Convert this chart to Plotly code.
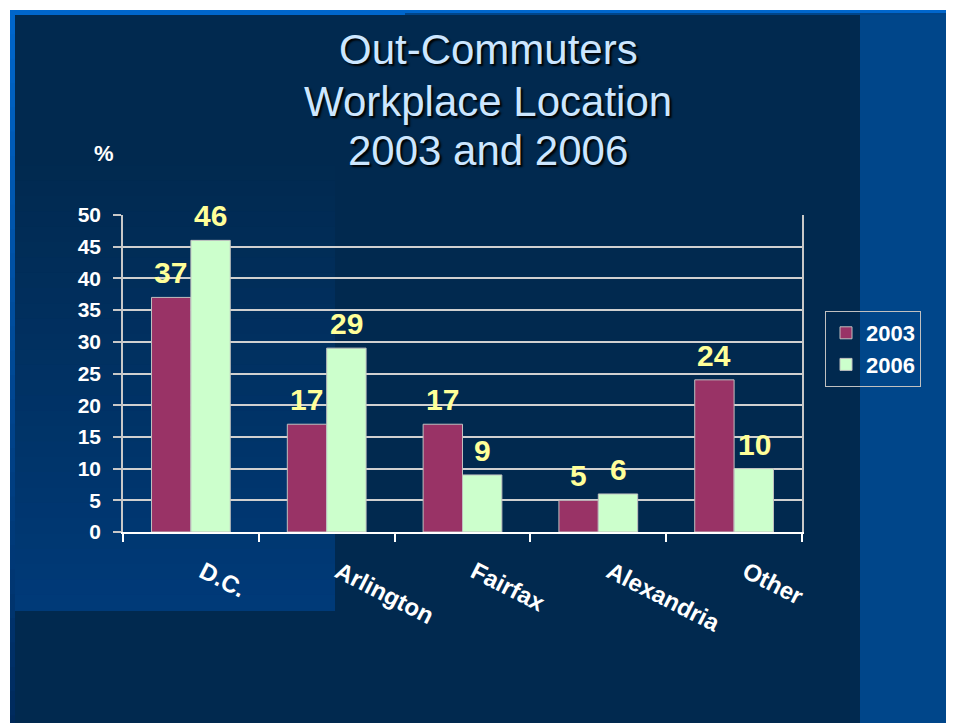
import plotly.graph_objects as go

# data
locations = ['D.C.', 'Arlington', 'Fairfax', 'Alexandria', 'Other']
share_2003 = [37, 17, 17, 5, 24]
share_2006 = [46, 29, 9, 6, 10]
title_lines = ['Out-Commuters', 'Workplace Location', '2003 and 2006']

W, H = 954, 723
OFF = 8  # page body margin, pixel coords below are screen coords
L, R, T, B = 123 - OFF, 802 - OFF, 215 - OFF, 532 - OFF  # plot area


def px(x):
    return (x - OFF - L) / (R - L)


def py(y):
    return (B - (y - OFF)) / (B - T)


def mix(c1, c2, t):
    a = [int(c1[i:i + 2], 16) for i in (1, 3, 5)]
    b = [int(c2[i:i + 2], 16) for i in (1, 3, 5)]
    return '#%02x%02x%02x' % tuple(round(a[k] + (b[k] - a[k]) * t) for k in range(3))


def rect(x0, y0, x1, y1, color):
    return dict(type='rect', xref='paper', yref='paper', layer='below',
                x0=px(x0), x1=px(x1), y0=py(y0), y1=py(y1),
                fillcolor=color, line=dict(width=0))


shapes = [
    rect(0, 0, 980, 10, 'white'),
    rect(0, 0, 10, 740, 'white'),
    rect(15, 15, 860, 740, '#01294f'),
    rect(10, 10, 405, 15, '#0066cc'),
    rect(405, 10, 980, 13, '#0066cc'),
    rect(405, 13, 980, 15, '#004488'),
]
# left slide strip and lower-left lighter panel, drawn as gradient bands
n = 30
for i in range(n):
    y0 = 10 + (740 - 10) * i / n
    y1 = 10 + (740 - 10) * (i + 1) / n
    shapes.append(rect(10, y0, 15, y1 + 1, mix('#0066cc', '#00295a', i / (n - 1))))
for i in range(n):
    y0 = 150 + (610 - 150) * i / n
    y1 = 150 + (610 - 150) * (i + 1) / n
    shapes.append(rect(15, y0, 335, y1 + 1, mix('#01294f', '#003a78', i / (n - 1))))

fig = go.Figure()
fig.add_trace(go.Bar(x=locations, y=share_2003, name='2003',
                     marker=dict(color='#993366', line=dict(color='#c0c0c0', width=1))))
fig.add_trace(go.Bar(x=locations, y=share_2006, name='2006',
                     marker=dict(color='#ccffcc', line=dict(color='#c0c0c0', width=1))))

label_font = dict(size=30, color='#ffff99', family='Liberation Sans, Arial', weight='bold')
annotations = []
for loc, v in zip(locations, share_2003):
    annotations.append(dict(x=loc, y=v, text=str(v), showarrow=False, xshift=-20, yshift=6,
                            yanchor='bottom', font=label_font))
for loc, v in zip(locations, share_2006):
    annotations.append(dict(x=loc, y=v, text=str(v), showarrow=False, xshift=20, yshift=6,
                            yanchor='bottom', font=label_font))
annotations.append(dict(xref='paper', yref='paper', x=px(104), y=py(153), text='%',
                        xanchor='center', yanchor='middle', showarrow=False,
                        font=dict(size=22, color='white', weight='bold')))
for line, yc in zip(title_lines, [50, 101, 151]):
    annotations.append(dict(xref='paper', yref='paper', x=px(488), y=py(yc), text=line,
                            xanchor='center', yanchor='middle', showarrow=False,
                            font=dict(size=42, color='#cce6ff', shadow='2px 2px 2px #000000')))

fig.update_layout(
    width=W, height=H,
    margin=dict(l=L, r=W - R, t=T, b=H - B),
    paper_bgcolor='#00468a',
    plot_bgcolor='rgba(0,0,0,0)',
    font=dict(family='Liberation Sans, Arial, sans-serif', color='white'),
    bargap=0.42, bargroupgap=0,
    xaxis=dict(showline=True, linecolor='white', linewidth=1.5, ticks='outside',
               tickson='boundaries', ticklen=8, tickcolor='white', tickwidth=1.5,
               tickangle=27, ticklabelstandoff=15, ticklabelshift=12, showgrid=False,
               tickfont=dict(size=24, color='white', weight='bold')),
    yaxis=dict(range=[0, 50], dtick=5, showline=True, mirror=True, linecolor='#c8c8c8',
               linewidth=1.5, ticks='outside', ticklen=8, tickcolor='#c8c8c8', tickwidth=1.5,
               showgrid=True, gridcolor='#d0d0d0', gridwidth=1.5, zeroline=False,
               ticklabelstandoff=8,
               tickfont=dict(size=21, color='white', weight='bold')),
    legend=dict(x=px(825), y=py(311), xanchor='left', yanchor='top',
                bordercolor='#c0c0c0', borderwidth=1, bgcolor='rgba(0,0,0,0)',
                font=dict(size=22, color='white', weight='bold'), tracegroupgap=2),
    shapes=shapes,
    annotations=annotations,
)

fig.write_html('out.html')
